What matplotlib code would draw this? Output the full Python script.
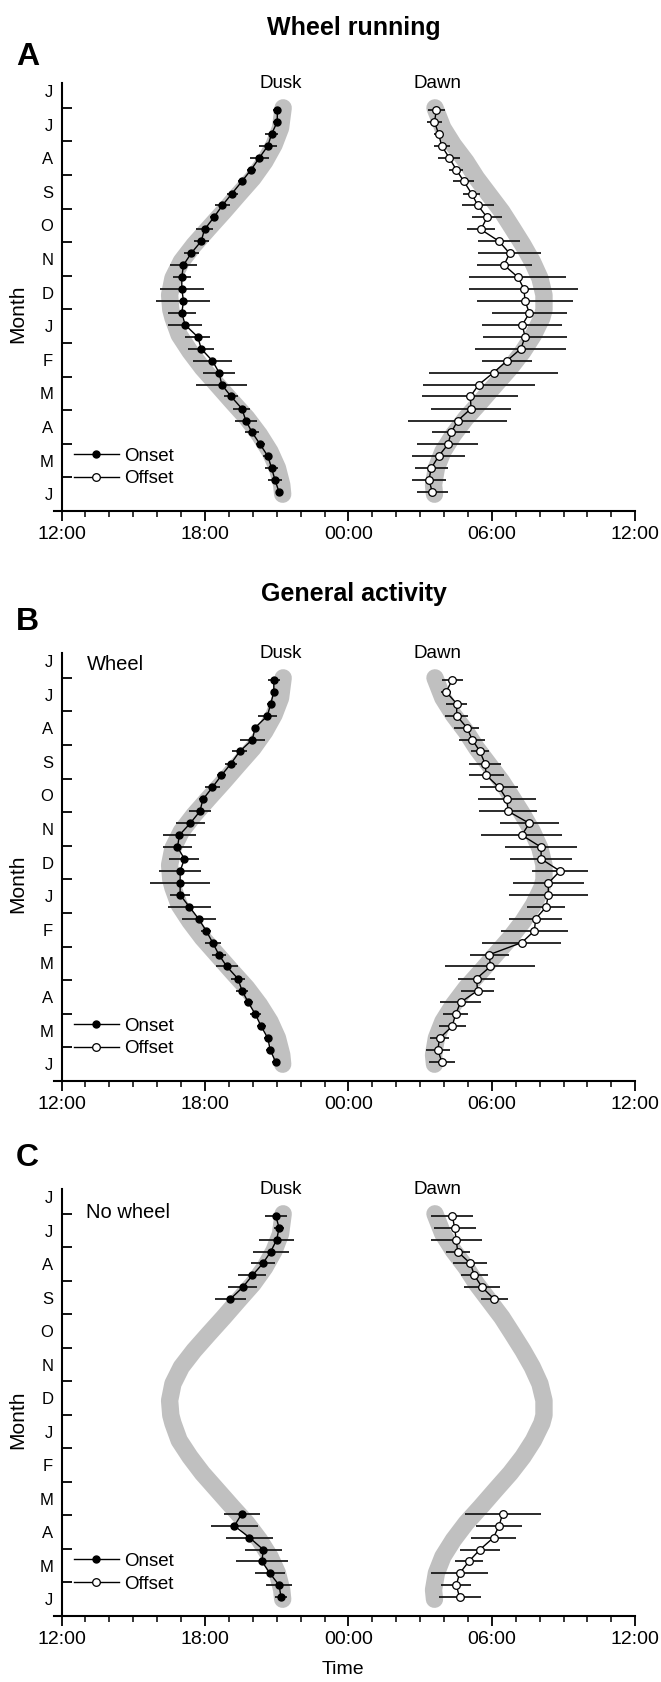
import numpy as np
import matplotlib
matplotlib.use("Agg")
import matplotlib.pyplot as plt
from matplotlib.lines import Line2D

plt.rcParams['font.family'] = ['Liberation Sans', 'DejaVu Sans']

# y position of each ~11-day bin, in months after 1 July
BIN_M = [0.06, 0.42, 0.77, 1.13, 1.48, 1.84, 2.19, 2.55, 2.90, 3.26, 3.62,
         3.97, 4.33, 4.68, 5.04, 5.39, 5.75, 6.11, 6.46, 6.82, 7.17, 7.53,
         7.88, 8.24, 8.59, 8.95, 9.31, 9.66, 10.02, 10.37, 10.73, 11.08, 11.44]

MONTHS = ["J", "J", "A", "S", "O", "N", "D", "J", "F", "M", "A", "M", "J"]
MONTH_POS = [-0.5, 0.5, 1.5, 2.5, 3.5, 4.5, 5.5, 6.5, 7.5, 8.5, 9.5, 10.5, 11.5]

# civil dusk / dawn (hours after 12:00)
BAND_M = [0.0, 0.60, 1.10, 1.60, 2.09, 2.59, 3.09, 3.58, 4.08, 4.57, 5.07, 5.57,
          6.01, 6.25, 6.76, 7.25, 7.74, 8.24, 8.74, 9.23, 9.73, 10.23, 10.72, 11.22, 11.50]
DUSK = [9.27, 9.16, 8.89, 8.50, 8.01, 7.39, 6.78, 6.16, 5.54, 5.01, 4.66, 4.52,
        4.57, 4.66, 4.92, 5.37, 5.89, 6.51, 7.13, 7.75, 8.28, 8.72, 9.03, 9.21, 9.25]
DAWN = [15.62, 15.95, 16.39, 16.92, 17.36, 17.89, 18.42, 18.86, 19.30, 19.69, 20.01, 20.18,
        20.18, 20.09, 19.74, 19.30, 18.77, 18.15, 17.54, 16.92, 16.39, 15.95, 15.68, 15.56, 15.60]

# A: wheel running
A_ON = [9.03, 9.02, 8.79, 8.63, 8.28, 7.93, 7.54, 7.13, 6.73, 6.37, 5.98, 5.84, 5.42,
        5.10, 5.03, 5.03, 5.10, 5.03, 5.17, 5.70, 5.84, 6.31, 6.59, 6.70, 7.09, 7.54,
        7.71, 7.97, 8.31, 8.63, 8.79, 8.93, 9.10]
A_ON_SD = [0.17, 0.18, 0.26, 0.38, 0.38, 0.19, 0.15, 0.23, 0.30, 0.17, 0.36, 0.31, 0.31,
           0.56, 0.38, 0.91, 1.13, 0.59, 0.72, 0.53, 0.54, 0.80, 0.66, 1.06, 0.29, 0.36,
           0.45, 0.30, 0.19, 0.19, 0.28, 0.31, 0.12]
A_OFF = [15.68, 15.60, 15.77, 15.90, 16.21, 16.51, 16.83, 17.15, 17.41, 17.80, 17.54,
         18.30, 18.74, 18.51, 19.09, 19.34, 19.39, 19.57, 19.27, 19.39, 19.21, 18.63,
         18.07, 17.45, 17.10, 17.13, 16.57, 16.30, 16.16, 15.77, 15.46, 15.37, 15.51]
A_OFF_SD = [0.34, 0.33, 0.18, 0.33, 0.46, 0.29, 0.44, 0.35, 0.66, 0.62, 0.60, 0.86, 1.31,
            1.15, 2.03, 2.28, 2.01, 1.57, 1.68, 1.74, 1.90, 1.04, 2.69, 2.34, 2.01, 1.66,
            2.08, 0.79, 1.28, 1.12, 0.69, 0.71, 0.66]

# B: general activity, wheel
B_ON = [8.88, 8.88, 8.75, 8.61, 8.10, 7.98, 7.45, 7.09, 6.69, 6.31, 5.91, 5.79, 5.38,
        4.93, 4.85, 5.14, 4.96, 4.96, 4.96, 5.35, 5.73, 6.05, 6.32, 6.58, 6.91, 7.37,
        7.55, 7.81, 8.11, 8.35, 8.63, 8.73, 8.96]
B_ON_SD = [0.24, 0.12, 0.15, 0.40, 0.14, 0.53, 0.30, 0.25, 0.17, 0.31, 0.17, 0.45, 0.61,
           0.68, 0.61, 0.63, 0.89, 1.27, 0.42, 0.91, 0.71, 0.21, 0.33, 0.28, 0.47, 0.29,
           0.26, 0.19, 0.24, 0.19, 0.15, 0.17, 0.17]
B_OFF = [16.34, 16.09, 16.53, 16.53, 16.95, 17.18, 17.50, 17.71, 17.77, 18.30, 18.63,
         18.68, 19.57, 19.25, 20.06, 20.06, 20.85, 20.36, 20.36, 20.27, 19.83, 19.78,
         19.25, 17.89, 17.94, 17.36, 17.40, 16.69, 16.48, 16.34, 15.81, 15.74, 15.91]
B_OFF_SD = [0.44, 0.22, 0.44, 0.49, 0.53, 0.55, 0.37, 0.66, 0.73, 0.78, 1.23, 1.22, 1.22,
            1.70, 1.50, 1.31, 1.17, 1.48, 1.66, 0.78, 1.11, 1.41, 1.66, 0.82, 1.88, 0.77,
            0.71, 0.84, 0.53, 0.57, 0.40, 0.49, 0.56]

# C: general activity, no wheel (no data Oct-Mar)
GAP = [None] * 17
C_ON = [8.96, 9.10, 9.00, 8.75, 8.42, 7.98, 7.58, 7.05] + GAP + \
       [7.54, 7.23, 7.86, 8.44, 8.38, 8.72, 9.10, 9.18]
C_ON_SD = [0.47, 0.21, 0.73, 0.75, 0.51, 0.59, 0.61, 0.65] + GAP + \
          [0.75, 0.97, 1.00, 0.78, 1.09, 0.61, 0.54, 0.26]
C_OFF = [16.35, 16.44, 16.51, 16.57, 17.10, 17.27, 17.59, 18.10] + GAP + \
        [18.45, 18.30, 18.07, 17.50, 17.04, 16.65, 16.51, 16.65]
C_OFF_SD = [0.88, 0.88, 1.06, 0.50, 0.71, 0.56, 0.75, 0.57] + GAP + \
           [1.59, 0.97, 0.94, 0.83, 0.60, 1.19, 0.63, 0.88]

XTICKS = [0, 6, 12, 18, 24]
XLABELS = ["12:00", "18:00", "00:00", "06:00", "12:00"]

W, H = 661, 1682
fig = plt.figure(figsize=(W / 100, H / 100), dpi=100)


def arr(v):
    return np.array([np.nan if x is None else x for x in v], dtype=float)


def panel(top, bottom, on, on_sd, off, off_sd, note=None, note_y=0.0):
    ax = fig.add_axes([53.9 / W, 1 - bottom / H, 581.4 / W, (bottom - top) / H])
    ax.plot(DUSK, BAND_M, color="#c0c0c0", lw=12.5, solid_capstyle="round",
            solid_joinstyle="round", zorder=1)
    ax.plot(DAWN, BAND_M, color="#c0c0c0", lw=12.5, solid_capstyle="round",
            solid_joinstyle="round", zorder=1)
    ax.errorbar(arr(on), BIN_M, xerr=arr(on_sd), fmt="-o", color="black", lw=1,
                elinewidth=1.3, ecolor="#1a1a1a", capsize=0, ms=5, mfc="black",
                mec="black", zorder=3)
    ax.errorbar(arr(off), BIN_M, xerr=arr(off_sd), fmt="-o", color="black", lw=1,
                elinewidth=1.3, ecolor="#1a1a1a", capsize=0, ms=5.5, mfc="white",
                mec="black", mew=0.9, zorder=3)

    ax.set_xlim(-0.32, 24)
    ax.set_ylim(12, -0.74)
    ax.spines["left"].set_position(("data", 0))
    for s in ("top", "right"):
        ax.spines[s].set_visible(False)
    for s in ("left", "bottom"):
        ax.spines[s].set_linewidth(1.5)

    ax.set_xticks(XTICKS)
    ax.set_xticklabels(XLABELS)
    ax.set_xticks(range(25), minor=True)
    ax.tick_params(axis="x", which="major", direction="out", length=7, width=1.3,
                   labelsize=14, pad=4)
    ax.tick_params(axis="x", which="minor", direction="out", length=4, width=1.1)

    ax.set_yticks(range(12))
    ax.set_yticklabels([])
    ax.set_yticks(MONTH_POS, minor=True)
    ax.set_yticklabels(MONTHS, minor=True)
    ax.tick_params(axis="y", which="major", direction="in", length=7, width=1.3)
    ax.tick_params(axis="y", which="minor", length=0, labelsize=12, pad=6)

    ax.set_ylabel("Month", fontsize=15)
    ax.yaxis.set_label_coords(-0.046, 0.46)

    ax.text(9.16, -0.6, "Dusk", ha="center", va="baseline", fontsize=13.5, clip_on=False)
    ax.text(15.71, -0.6, "Dawn", ha="center", va="baseline", fontsize=13.5, clip_on=False)
    if note:
        ax.text(1.04, note_y, note, ha="left", va="baseline", fontsize=14.5)

    h_on = Line2D([], [], color="black", lw=1, marker="o", ms=5, mfc="black")
    h_off = Line2D([], [], color="black", lw=1, marker="o", ms=5.5, mfc="white", mew=0.9)
    ax.legend([h_on, h_off], ["Onset", "Offset"], loc="lower left",
              bbox_to_anchor=(0.034, 0.055), frameon=False, fontsize=13.5,
              handlelength=2.4, handletextpad=0.3, labelspacing=0.3,
              borderpad=0, borderaxespad=0)
    return ax


axA = panel(83, 511, A_ON, A_ON_SD, A_OFF, A_OFF_SD)
axB = panel(653, 1081, B_ON, B_ON_SD, B_OFF, B_OFF_SD, "Wheel", -0.23)
axC = panel(1189, 1616, C_ON, C_ON_SD, C_OFF, C_OFF_SD, "No wheel", 0.13)

axC.set_xlabel("Time", fontsize=14)
axC.xaxis.set_label_coords(0.497, -0.106)

fig.text(354 / W, 1 - 35 / H, "Wheel running", ha="center", va="baseline",
         fontsize=18, fontweight="bold")
fig.text(354 / W, 1 - 601 / H, "General activity", ha="center", va="baseline",
         fontsize=18, fontweight="bold")
for letter, base in (("A", 65), ("B", 630), ("C", 1166)):
    fig.text(16 / W, 1 - base / H, letter, ha="left", va="baseline",
             fontsize=23, fontweight="bold")

fig.savefig("out.png", dpi=100)
